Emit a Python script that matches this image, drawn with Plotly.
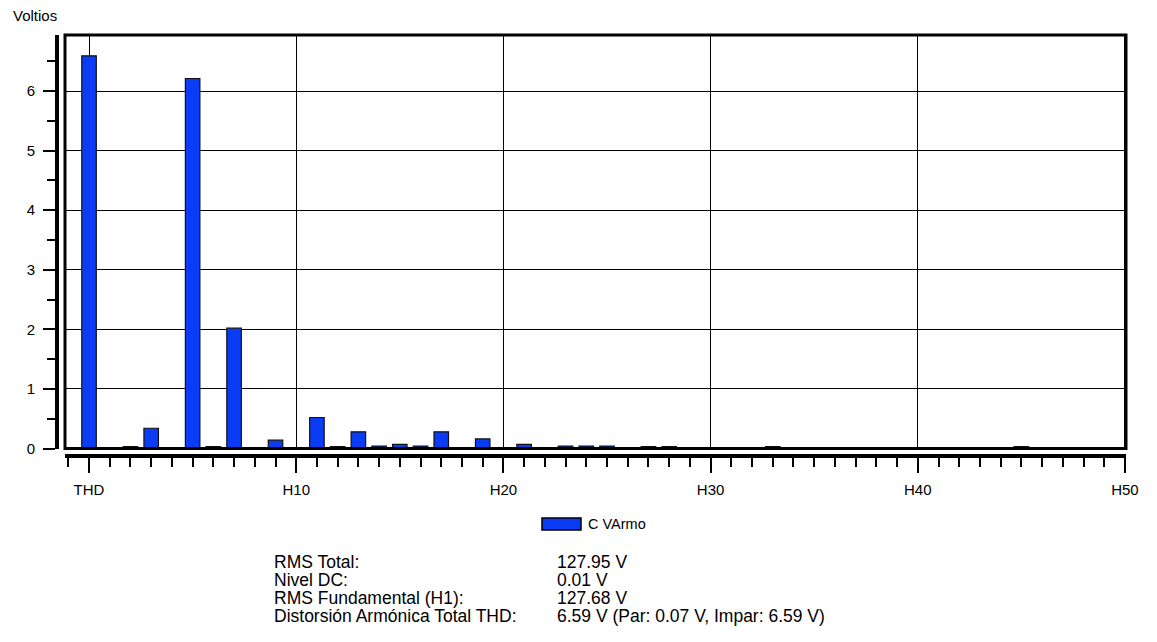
import plotly.graph_objects as go

# ---- data ----
positions = list(range(0, 51))          # 0 = THD, n = harmonic Hn
values = [6.59, 0.005, 0.03, 0.34, 0.005, 6.21, 0.03, 2.02, 0.005, 0.14,
          0.005, 0.52, 0.03, 0.28, 0.04, 0.07, 0.04, 0.28, 0.005, 0.16,
          0.005, 0.07, 0.005, 0.04, 0.04, 0.04, 0.005, 0.03, 0.03, 0.005,
          0.005, 0.005, 0.005, 0.03, 0.005, 0.005, 0.005, 0.005, 0.005, 0.005,
          0.005, 0.005, 0.005, 0.005, 0.005, 0.03, 0.005, 0.005, 0.005, 0.005,
          0.005]
tick_vals = [0, 10, 20, 30, 40, 50]
tick_text = ["THD", "H10", "H20", "H30", "H40", "H50"]
series_name = "C VArmo"
info_labels = ["RMS Total:", "Nivel DC:", "RMS Fundamental (H1):",
               "Distorsión Armónica Total THD:"]
info_values = ["127.95 V", "0.01 V", "127.68 V",
               "6.59 V (Par: 0.07 V, Impar: 6.59 V)"]

OFF = 8  # page body margin
W, H = 1157 - OFF, 642 - OFF
SL, ST, SR, SB = 57, 35, 1126, 456      # plot box in screen pixels
L, T = SL - OFF, ST - OFF
R, B = W - (SR - OFF), H - (SB - OFF)
pw, ph = SR - SL, SB - ST


def px(x):
    return (x - SL) / pw


def py(y):
    return (SB - y) / ph


FONT = "Liberation Sans, Arial, sans-serif"
BLUE = "#0a3cf5"

fig = go.Figure()
fig.add_trace(go.Bar(
    x=positions, y=values, width=0.7, name=series_name,
    marker=dict(color=BLUE, line=dict(color="#101010", width=1.2)),
    showlegend=False,
))

fig.update_layout(
    width=W, height=H,
    margin=dict(l=L, r=R, t=T, b=B, autoexpand=False),
    paper_bgcolor="white", plot_bgcolor="white",
    font=dict(family=FONT, size=12, color="black"),
)

fig.update_xaxes(
    domain=[px(65), 1], range=[-1.16, 50.05],
    anchor="free", position=0,
    tickmode="array", tickvals=tick_vals, ticktext=tick_text,
    ticks="outside", ticklen=15, tickwidth=1.5, tickcolor="black",
    ticklabelstandoff=4,
    showline=True, linewidth=4, linecolor="black",
    showgrid=True, gridcolor="black", gridwidth=1,
    zeroline=False,
    tickfont=dict(family=FONT, size=15, color="black"),
    minor=dict(tickmode="linear", tick0=0, dtick=1, ticks="outside",
               ticklen=9, tickwidth=1.5, tickcolor="black", showgrid=False),
)
fig.update_yaxes(
    domain=[py(448.5), 1], range=[0, 6.94],
    anchor="free", position=0,
    tickmode="linear", tick0=0, dtick=1,
    ticks="outside", ticklen=12, tickwidth=1.5, tickcolor="black",
    ticklabelstandoff=5,
    showline=True, linewidth=4, linecolor="black",
    showgrid=True, gridcolor="black", gridwidth=1,
    zeroline=False,
    tickfont=dict(family=FONT, size=15, color="black"),
    minor=dict(tickmode="linear", tick0=0, dtick=0.5, ticks="outside",
               ticklen=8, tickwidth=1.5, tickcolor="black", showgrid=False),
)

# plot frame
fig.add_shape(type="rect", xref="x domain", yref="y domain",
              x0=0, x1=1, y0=0, y1=1,
              line=dict(color="black", width=3), layer="above")

# y-axis title
fig.add_annotation(text="Voltios", xref="paper", yref="paper",
                   x=px(11), y=py(15), xanchor="left", yanchor="middle",
                   showarrow=False, font=dict(family=FONT, size=15))

# legend (custom wide swatch)
fig.add_shape(type="rect", xref="paper", yref="paper",
              x0=px(542), x1=px(581), y0=py(530), y1=py(518),
              fillcolor=BLUE, line=dict(color="black", width=1.5))
fig.add_annotation(text=series_name, xref="paper", yref="paper",
                   x=px(586), y=py(524), xanchor="left", yanchor="middle",
                   showarrow=False, font=dict(family=FONT, size=14.5))

# info block
for i, (lab, val) in enumerate(zip(info_labels, info_values)):
    yy = py(562 + 18 * i)
    fig.add_annotation(text=lab, xref="paper", yref="paper", x=px(272), y=yy,
                       xanchor="left", yanchor="middle", showarrow=False,
                       font=dict(family=FONT, size=17.5))
    fig.add_annotation(text=val, xref="paper", yref="paper", x=px(555), y=yy,
                       xanchor="left", yanchor="middle", showarrow=False,
                       font=dict(family=FONT, size=17.5))

fig.write_html("out.html")
